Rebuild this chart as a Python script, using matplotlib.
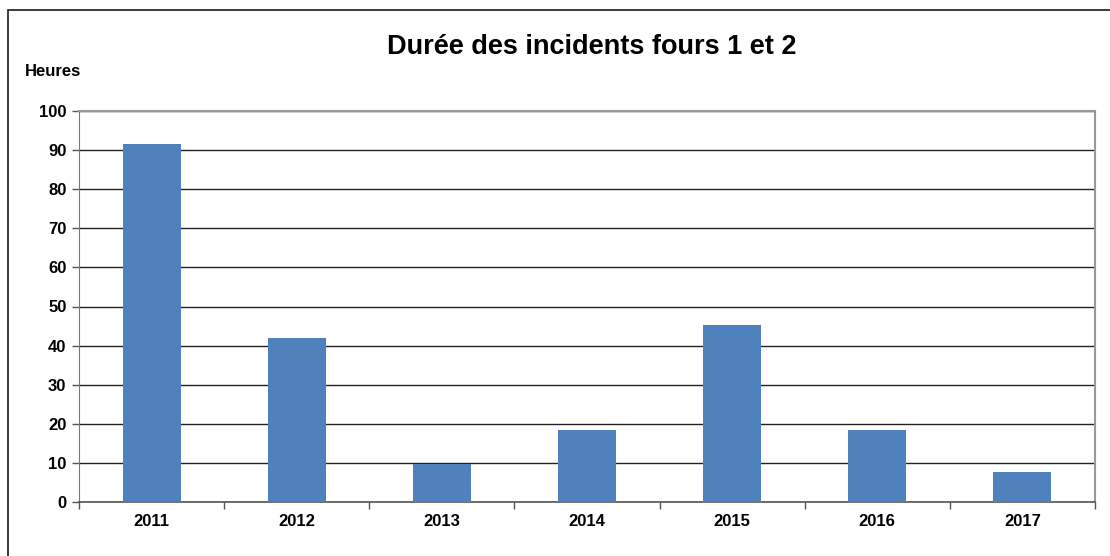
import matplotlib.pyplot as plt
from matplotlib.patches import Rectangle

plt.rcParams['font.family'] = ['Liberation Sans', 'DejaVu Sans']
plt.rcParams['font.weight'] = 'bold'

# data
years = ['2011', '2012', '2013', '2014', '2015', '2016', '2017']
heures = [91.6, 41.9, 9.7, 18.3, 45.3, 18.5, 7.7]
yticks = [0, 10, 20, 30, 40, 50, 60, 70, 80, 90, 100]

fig = plt.figure(figsize=(11.1, 5.56), dpi=100)
W, H = 1110, 556

# outer chart frame
fig.patches.append(Rectangle((8 / W, -0.1), 1.2, 1 - 10 / H + 0.1,
                             transform=fig.transFigure, fill=False,
                             edgecolor='#1a1a1a', linewidth=1.2))

ax = fig.add_axes([79 / W, 1 - 502 / H, (1095 - 79) / W, (502 - 111) / H])

x = range(len(years))
ax.bar(x, heures, width=0.4, color='#4F81BD', zorder=3)

ax.set_xlim(-0.5, len(years) - 0.5)
ax.set_ylim(0, 100)
ax.set_yticks(yticks)
ax.set_yticklabels([str(v) for v in yticks], fontsize=12, fontweight='bold')
ax.set_xticks(list(x))
ax.set_xticklabels(years, fontsize=12, fontweight='bold')
ax.tick_params(axis='x', length=0, pad=9)
ax.set_xticks([i + 0.5 for i in range(-1, len(years))], minor=True)
ax.tick_params(axis='x', which='minor', length=5, width=1, color='#555555', direction='out')
ax.tick_params(axis='y', length=5, width=1, color='#555555', direction='out', pad=4)

ax.grid(axis='y', color='#222222', linewidth=1, zorder=0)

for side in ['top', 'right']:
    ax.spines[side].set_color('#999999')
    ax.spines[side].set_linewidth(1.5)
ax.spines['left'].set_color('#777777')
ax.spines['bottom'].set_color('#555555')
ax.spines['bottom'].set_linewidth(1.2)

fig.text(592 / W, 1 - 47 / H, 'Durée des incidents fours 1 et 2',
         ha='center', va='center', fontsize=19.5, fontweight='bold')
fig.text(25 / W, 1 - 71 / H, 'Heures', ha='left', va='center',
         fontsize=12, fontweight='bold')

fig.savefig('out.png', dpi=100)
